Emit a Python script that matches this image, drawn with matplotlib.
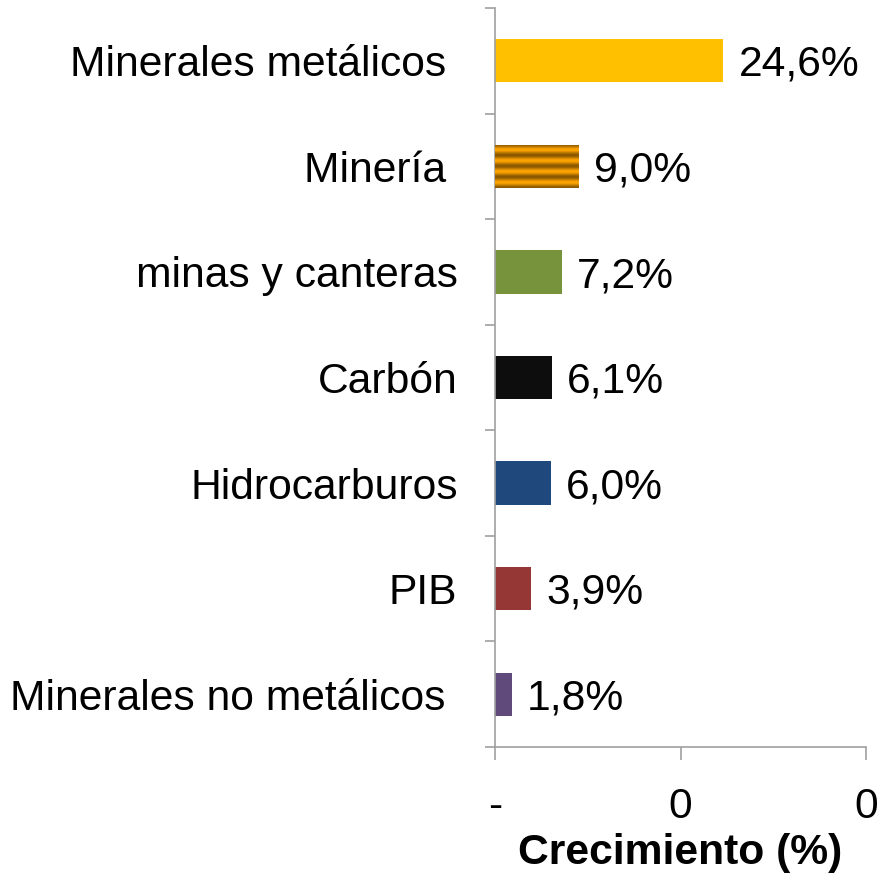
import numpy as np
import matplotlib
matplotlib.use("Agg")
import matplotlib.pyplot as plt
from matplotlib.colors import LinearSegmentedColormap

plt.rcParams['font.family'] = ['Liberation Sans', 'DejaVu Sans']

# datos
categorias = ["Minerales metálicos ", "Minería ", "minas y canteras", "Carbón",
              "Hidrocarburos", "PIB", "Minerales no metálicos "]
valores = [24.6, 9.0, 7.2, 6.1, 6.0, 3.9, 1.8]
etiquetas = ["24,6%", "9,0%", "7,2%", "6,1%", "6,0%", "3,9%", "1,8%"]
colores = ["#FFC000", "#FFA500", "#77933C", "#0D0D0D", "#1F497D", "#953735", "#604A7B"]
xticks = [0, 20, 40]
xtick_labels = ["-", "0", "0"]

FS = 30.7

fig = plt.figure(figsize=(8.79, 8.77), dpi=100)
ax = fig.add_axes([495/879, (877-747)/877, (866-495)/879, (747-8)/877])

pos = np.arange(len(categorias))
bars = ax.barh(pos, valores, height=0.41, color=colores)

# barra rayada (Minería)
b = bars[1]
cmap = LinearSegmentedColormap.from_list("rayas", ["#8A5800", "#FFA500"])
t = np.linspace(0, 1, 86)
grad = (0.5 - 0.5*np.cos(2*np.pi*4*t)).reshape(-1, 1)
x0, y0 = b.get_x(), b.get_y()
im = ax.imshow(grad, cmap=cmap, aspect='auto', interpolation='bilinear',
               extent=[x0, x0 + b.get_width(), y0 + b.get_height(), y0], zorder=3)
im.set_clip_path(b)

for bar, txt in zip(bars, etiquetas):
    ax.annotate(txt, (bar.get_width(), bar.get_y() + bar.get_height()/2),
                xytext=(11, -3), textcoords='offset points',
                va='center', ha='left', fontsize=FS)

ax.set_xlim(0, 40)
ax.set_ylim(len(categorias) - 0.5, -0.5)
ax.set_xticks(xticks)
ax.set_xticklabels(xtick_labels, fontsize=FS)
ax.set_yticks(pos)
ax.set_yticklabels(categorias, fontsize=FS)
ax.set_yticks(np.arange(len(categorias) + 1) - 0.5, minor=True)
ax.tick_params(axis='y', which='major', length=0, pad=27)
ax.tick_params(axis='y', which='minor', length=7, width=1.2, color='#A0A0A0')
ax.tick_params(axis='x', length=9, width=1.2, color='#A0A0A0', pad=20)

for s in ['top', 'right']:
    ax.spines[s].set_visible(False)
for s in ['left', 'bottom']:
    ax.spines[s].set_color('#A0A0A0')
    ax.spines[s].set_linewidth(1.2)

ax.set_xlabel("Crecimiento (%)", fontsize=FS, fontweight='bold', labelpad=4)

fig.savefig("out.png", dpi=100)
